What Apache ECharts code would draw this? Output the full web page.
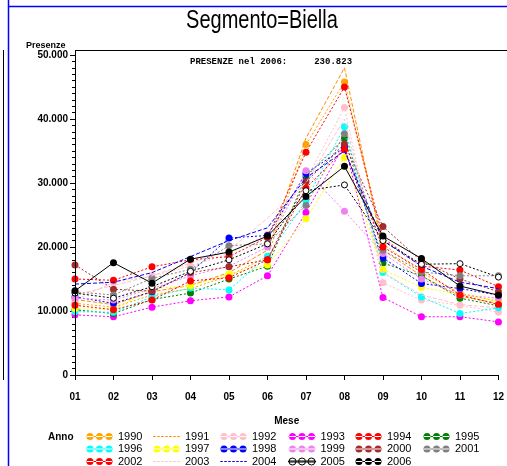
<!DOCTYPE html>
<html><head><meta charset="utf-8">
<script src="https://cdn.jsdelivr.net/npm/echarts@6/dist/echarts.min.js"></script>
<style>html,body{margin:0;padding:0;background:#fff}#c{width:507px;height:466px}</style>
</head><body><div id="c"></div>
<script>
const months = ['01','02','03','04','05','06','07','08','09','10','11','12'];
const yTicks = [0, 10000, 20000, 30000, 40000, 50000];
const years = ['1990','1991','1992','1993','1994','1995','1996','1997','1998','1999','2000','2001','2002','2003','2004','2005','2006'];
const v1990 = [11200,10600,12500,13500,15500,18500,36000,45800,20500,16000,12800,11500];
const v1991 = [11800,11000,13000,14000,16000,19500,37000,48000,19500,15500,12300,11200];
const v1992 = [11700,14500,15500,17000,19000,22000,30500,41800,14400,11700,10900,9800];
const v1993 = [9400,9100,10600,11600,12200,15500,25400,36000,12100,9100,9100,8300];
const v1994 = [15000,14800,16900,18000,18500,21500,34800,45000,21400,17000,16400,13800];
const v1995 = [10200,9600,11800,12800,15000,17000,31000,37000,17500,15500,12000,10800];
const v1996 = [9900,9800,12200,13600,13300,18500,27200,38800,16000,12200,9600,10500];
const v1997 = [10400,10200,13500,13900,15800,17200,24400,34000,16500,13700,12600,11500];
const v1998 = [12200,11200,13000,16000,21400,21800,31500,35500,18300,14300,13500,12500];
const v1999 = [12000,11700,13500,15500,17000,20000,31900,25600,19000,15000,12500,12000];
const v2000 = [17200,13400,13100,16000,16900,18000,30200,36100,23200,17800,15000,13000];
const v2001 = [13000,12500,15100,16500,20200,20500,26500,37700,19500,16100,15500,15500];
const v2002 = [10900,10200,11700,14700,15200,18000,29200,35200,20000,16500,12500,11000];
const v2003 = [12500,14000,15500,17500,19500,24500,30000,40000,16000,12500,11000,10500];
const v2004 = [14200,14500,16000,18500,21000,23000,30800,35000,21000,17000,14500,13500];
const v2005 = [12800,12000,13800,16200,18000,20500,28800,29700,21000,17300,17400,15300];
const v2006 = [13150,17550,14350,18100,19200,21700,27900,32600,21700,18200,13900,12473];

const values = [v1990,v1991,v1992,v1993,v1994,v1995,v1996,v1997,v1998,v1999,v2000,v2001,v2002,v2003,v2004,v2005,v2006];
const colors = ['#FFA500','#FF8C00','#FFC0CB','#FF00FF','#FF0000','#008000','#00FFFF','#FFFF00','#0000FF','#EE82EE','#A52A2A','#808080','#FF0000','#FFC0CB','#0000FF','#000000','#000000'];
const noMarker = {'1991':true,'2003':true,'2004':true};

const FN = "'Liberation Sans','DejaVu Sans',sans-serif";
const dotsIcon = 'path://M0,3.5h27v1h-27z M0.5,4a3.5,3.5 0 1,0 7,0a3.5,3.5 0 1,0 -7,0z M10,4a3.5,3.5 0 1,0 7,0a3.5,3.5 0 1,0 -7,0z M19.5,4a3.5,3.5 0 1,0 7,0a3.5,3.5 0 1,0 -7,0z M0,0h0.01v0.01h-0.01z M0,8h0.01v-0.01h-0.01z';
let dashPath = 'path://M0,0h0.01v0.01h-0.01z M0,8h0.01v-0.01h-0.01z';
for (let x = 0; x < 27; x += 4) dashPath += ' M' + x + ',3.5h' + Math.min(2.5, 27 - x) + 'v1h-' + Math.min(2.5, 27 - x) + 'z';

const series = years.map((y, i) => {
  const s = {
    name: y, type: 'line', data: values[i], color: colors[i],
    symbol: noMarker[y] ? 'none' : 'circle', symbolSize: 7,
    lineStyle: {width: 1, color: colors[i], type: y === '2006' ? 'solid' : (noMarker[y] ? [4, 2] : [2, 2])},
    itemStyle: {color: colors[i]},
    z: 2 + i
  };
  if (y === '2005') { s.itemStyle = {color: '#fff', borderColor: '#000', borderWidth: 1}; s.symbolSize = 6; }
  return s;
});

function legendItem(y) {
  if (noMarker[y]) return {name: y, icon: dashPath};
  const it = {name: y, icon: dotsIcon};
  if (y === '2005') it.itemStyle = {color: '#fff', borderColor: '#000', borderWidth: 1};
  return it;
}
const cols = [['1990','1996','2002'],['1991','1997','2003'],['1992','1998','2004'],['1993','1999','2005'],['1994','2000','2006'],['1995','2001']];
const colX = [86, 153, 220, 288, 355, 423];
const legends = cols.map((c, k) => ({
  orient: 'vertical', left: colX[k], top: 431, height: 60, itemWidth: 27, itemHeight: 8, itemGap: 1.5,
  padding: 0, selectedMode: false,
  textStyle: {fontFamily: FN, fontSize: 11, color: '#000', lineHeight: 10},
  data: c.map(legendItem)
}));

const total2006 = v2006.reduce((a, b) => a + b, 0);
const fmt = v => v === 0 ? '0' : String(Math.floor(v / 1000)) + '.' + String(v % 1000).padStart(3, '0');

const chart = echarts.init(document.getElementById('c'), null, {renderer: 'canvas'});
chart.setOption({
  backgroundColor: '#fff',
  animation: false,
  legend: legends,
  grid: {left: 75, top: 55, width: 434, height: 320},
  xAxis: {
    type: 'category', data: months, boundaryGap: false, offset: 4,
    axisLine: {lineStyle: {color: '#000', width: 1}},
    axisTick: {show: true, length: 5, lineStyle: {color: '#000'}},
    axisLabel: {fontFamily: FN, fontSize: 10, fontWeight: 'bold', color: '#000', margin: 13},
    name: 'Mese', nameLocation: 'middle', nameGap: 37,
    nameTextStyle: {fontFamily: FN, fontSize: 10, fontWeight: 'bold', color: '#000'},
    splitLine: {show: false}
  },
  yAxis: {
    type: 'value', min: 0, max: 50000, interval: 10000,
    axisLine: {show: true, lineStyle: {color: '#000', width: 1}},
    axisTick: {show: true, length: 5, lineStyle: {color: '#000'}},
    minorTick: {show: true, splitNumber: 10, length: 3, lineStyle: {color: '#000'}},
    axisLabel: {fontFamily: FN, fontSize: 10, fontWeight: 'bold', color: '#000', margin: 7, formatter: fmt},
    splitLine: {show: false}
  },
  graphic: [
    {type: 'line', shape: {x1: 8.5, y1: 0, x2: 8.5, y2: 466}, style: {stroke: '#0000FF', lineWidth: 1.5}, z: 100},
    {type: 'line', shape: {x1: 8, y1: 6.5, x2: 507, y2: 6.5}, style: {stroke: '#0000FF', lineWidth: 1.5}, z: 100},
    {type: 'line', shape: {x1: 3.5, y1: 50, x2: 3.5, y2: 380}, style: {stroke: '#000', lineWidth: 1}, z: 100},
    {type: 'line', shape: {x1: 75, y1: 50.5, x2: 507, y2: 50.5}, style: {stroke: '#000', lineWidth: 1}, z: 100},
    {type: 'line', shape: {x1: 75.5, y1: 50, x2: 75.5, y2: 379}, style: {stroke: '#000', lineWidth: 1}, z: 100},
    {type: 'text', x: 262, y: 9, scaleX: 0.8, originX: 0, style: {text: 'Segmento=Biella', font: "25px " + FN, fill: '#000', textAlign: 'center'}},
    {type: 'text', left: 26, top: 41, style: {text: 'Presenze', font: "bold 9px " + FN, fill: '#000'}},
    {type: 'text', left: 48, top: 432, style: {text: 'Anno', font: "bold 10px " + FN, fill: '#000'}},
    {type: 'text', left: 190, top: 57, style: {text: 'PRESENZE nel 2006:     ' + fmt(total2006), font: "bold 9px 'Liberation Mono','DejaVu Sans Mono',monospace", fill: '#000'}}
  ],
  series: series
});
</script>
</body></html>
